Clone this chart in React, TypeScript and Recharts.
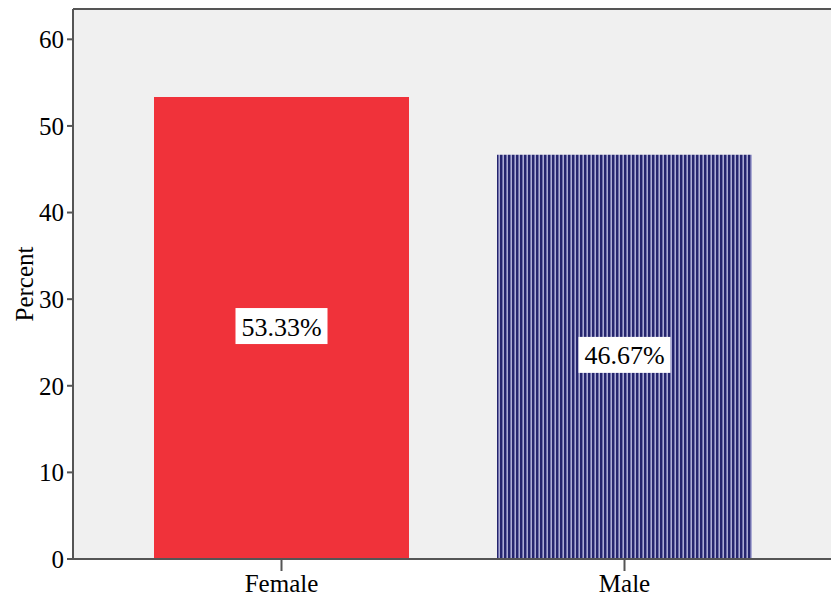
import React from "react";
import { BarChart, Bar, XAxis, YAxis, Cell, LabelList, CartesianGrid, ReferenceLine } from "recharts";

const categories = ["Female", "Male"];
const percents = [53.33, 46.67];
const labels = ["53.33%", "46.67%"];
const yTicks = [0, 10, 20, 30, 40, 50, 60];

const data = categories.map((c, i) => ({ name: c, value: percents[i], label: labels[i] }));

const FONT = "'Liberation Serif', 'Times New Roman', serif";

const BoxLabel = (props: any) => {
  const { x, y, width, height, value } = props;
  const cx = x + width / 2;
  const cy = y + height / 2 - 2;
  const w = 92;
  const h = 36;
  return (
    <g>
      <rect x={cx - w / 2} y={cy - h / 2} width={w} height={h} fill="#ffffff" />
      <text x={cx} y={cy + 1} textAnchor="middle" dominantBaseline="central" fontFamily={FONT} fontSize={26} fill="#000">
        {value}
      </text>
    </g>
  );
};

const YLabel = (props: any) => {
  const vb = props.viewBox || {};
  const cy = (vb.y ?? 0) + (vb.height ?? 0) / 2;
  return (
    <text x={24} y={cy} transform={`rotate(-90, 24, ${cy})`} textAnchor="middle" dominantBaseline="central" fontFamily={FONT} fontSize={25} fill="#000">
      Percent
    </text>
  );
};

export default function App() {
  return (
    <div style={{ position: "absolute", left: 0, top: 0, width: 831, height: 598, background: "#fff" }}>
      <BarChart width={831} height={598} data={data} margin={{ top: 9, right: 0, bottom: 0, left: 0 }} barSize={255}>
        <defs>
          <pattern id="stripes" x="0" y="0" width="4" height="10" patternUnits="userSpaceOnUse">
            <rect x="0" y="0" width="4" height="10" fill="#25256e" />
            <rect x="2" y="0" width="1" height="10" fill="#7070ac" />
            <rect x="3" y="0" width="1" height="10" fill="#acacd4" />
          </pattern>
        </defs>
        <CartesianGrid fill="#f0f0f0" stroke="none" horizontal={false} vertical={false} />
        <ReferenceLine y={63.5} stroke="#555" strokeWidth={2} ifOverflow="extendDomain" />
        <XAxis
          dataKey="name"
          height={39}
          padding={{ left: 37, right: 35 }}
          tickSize={12}
          tickMargin={3}
          axisLine={{ stroke: "#555", strokeWidth: 2 }}
          tickLine={{ stroke: "#555", strokeWidth: 2 }}
          tick={{ fontFamily: FONT, fontSize: 25, fill: "#000" }}
        />
        <YAxis
          width={73}
          domain={[0, 63.5]}
          ticks={yTicks}
          tickSize={6}
          tickMargin={3}
          axisLine={{ stroke: "#555", strokeWidth: 2 }}
          tickLine={{ stroke: "#555", strokeWidth: 2 }}
          tick={{ fontFamily: FONT, fontSize: 25, fill: "#000" }}
          label={<YLabel />}
        />
        <Bar dataKey="value" isAnimationActive={false}>
          <Cell fill="#f0323a" />
          <Cell fill="url(#stripes)" />
          <LabelList dataKey="label" content={<BoxLabel />} />
        </Bar>
      </BarChart>
    </div>
  );
}
